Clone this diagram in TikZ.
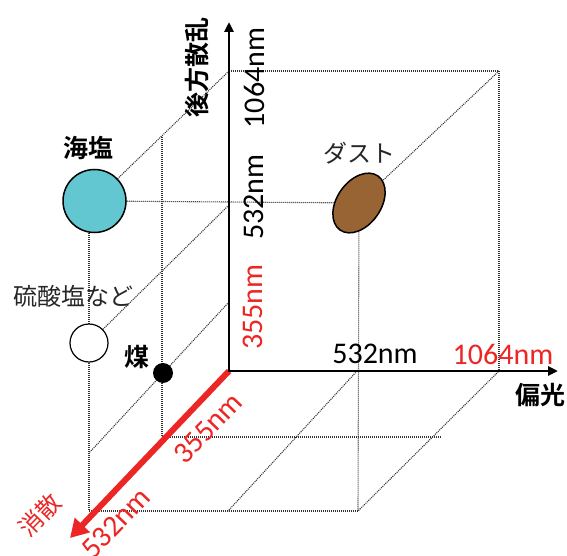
\documentclass[tikz,border=0pt]{standalone}
\usepackage{fontspec}
\setmainfont{Carlito}
\newfontfamily\jp{Noto Sans CJK JP}[BoldFont={Noto Sans CJK JP Bold}]
\usetikzlibrary{arrows.meta,shapes.geometric,backgrounds}
\definecolor{axred}{RGB}{236,38,36}
\definecolor{seasalt}{RGB}{99,199,209}
\definecolor{dustc}{RGB}{153,100,52}
\begin{document}
\begin{tikzpicture}[x=1pt,y=1pt,
  gridline/.style={draw=black!80, line width=1.1pt, dash pattern=on 1pt off 1pt},
  blackaxis/.style={line width=2.6pt, {Triangle[length=10pt,width=9pt]}-{Triangle[length=10pt,width=9pt]}},
  redaxis/.style={draw=axred, line width=6pt, -{Triangle[length=18pt,width=20pt]}},
  num/.style={inner sep=0pt, font=\fontsize{30}{30}\selectfont},
  rnum/.style={num, text=axred},
  jpreg/.style={inner sep=0pt, text=black!85, font=\jp\fontsize{24}{24}\selectfont},
  jpbold/.style={inner sep=0pt, font=\jp\bfseries\fontsize{25}{25}\selectfont},
  particle/.style={draw, line width=1.5pt, inner sep=0pt}
]
\useasboundingbox (0,0) rectangle (567,-556);

% particles
\node[particle, circle, fill=seasalt, minimum size=63pt] (S) at (94.5,-201) {};
\node[particle, ellipse, fill=dustc, minimum width=66pt, minimum height=44pt, rotate=55] (D) at (359,-203) {};
\node[particle, circle, fill=white, line width=1.2pt, minimum size=38pt] (W) at (89,-343) {};
\node[circle, fill=black, inner sep=0pt, minimum size=20pt] (K) at (163,-373) {};

% coordinates
\coordinate (O) at (229,-371);
\coordinate (YT) at (229,-22);
\coordinate (XT) at (558,-371);
\coordinate (ZT) at (70,-538);
\coordinate (Y1) at (229,-71);
\coordinate (Y2) at (229,-205);
\coordinate (Y3) at (229,-302);
\coordinate (X1) at (357,-371);
\coordinate (X2) at (499,-371);
\coordinate (TR) at (499,-71);
\coordinate (M1) at (162,-137);
\coordinate (M2) at (162,-437);
\coordinate (M3) at (442,-437);
\coordinate (B1) at (89,-511);
\coordinate (B2) at (228,-511);
\coordinate (B3) at (358,-511);
\coordinate (L1) at (89,-453);

\begin{pgfonlayer}{background}
  \draw[gridline] (Y1) -- (TR) -- (X2);
  \draw[gridline] (TR) -- (D);
  \draw[gridline] (S) -- (D);
  \draw[gridline] (Y1) -- (S);
  \draw[gridline] (M1) -- (M2) -- (M3);
  \draw[gridline] (Y3) -- (L1);
  \draw[gridline] (Y2) -- (W);
  \draw[gridline] (B1 |- S.center) -- (B1) -- (B3);
  \draw[gridline] (D) -- (B3) -- (X2);
  \draw[gridline] (X1) -- (B2);
\end{pgfonlayer}

% axes
\draw[redaxis] (O) -- (ZT);
\draw[blackaxis, line join=miter] (YT) -- (O) -- (XT);

% labels
\node[jpbold, rotate=90] (ylab) at (197,-68) {後方散乱};
\node[num, rotate=90] (y1064) at (254,-78) {1064nm};
\node[num, rotate=90] (y532) at (254,-197) {532nm};
\node[rnum, rotate=90] (y355) at (253,-307) {355nm};
\node[num] (x532) at (375,-354) {532nm};
\node[rnum] (x1064) at (503,-354) {1064nm};
\node[jpbold] (xlab) at (540,-395) {偏光};
\node[rnum, rotate=46] (z355) at (208,-428) {355nm};
\node[rnum, rotate=46] (z532) at (116,-523) {532nm};
\node[inner sep=0pt, text=axred, font=\jp\fontsize{24}{24}\selectfont, rotate=46] (zlab) at (40,-515) {消散};
\node[jpbold] (Slab) at (88,-148) {海塩};
\node[jpreg] (Dlab) at (359,-153) {ダスト};
\node[jpreg] (Wlab) at (73,-296) {硫酸塩など};
\node[jpbold] (Klab) at (137,-357) {煤};
\end{tikzpicture}
\end{document}
